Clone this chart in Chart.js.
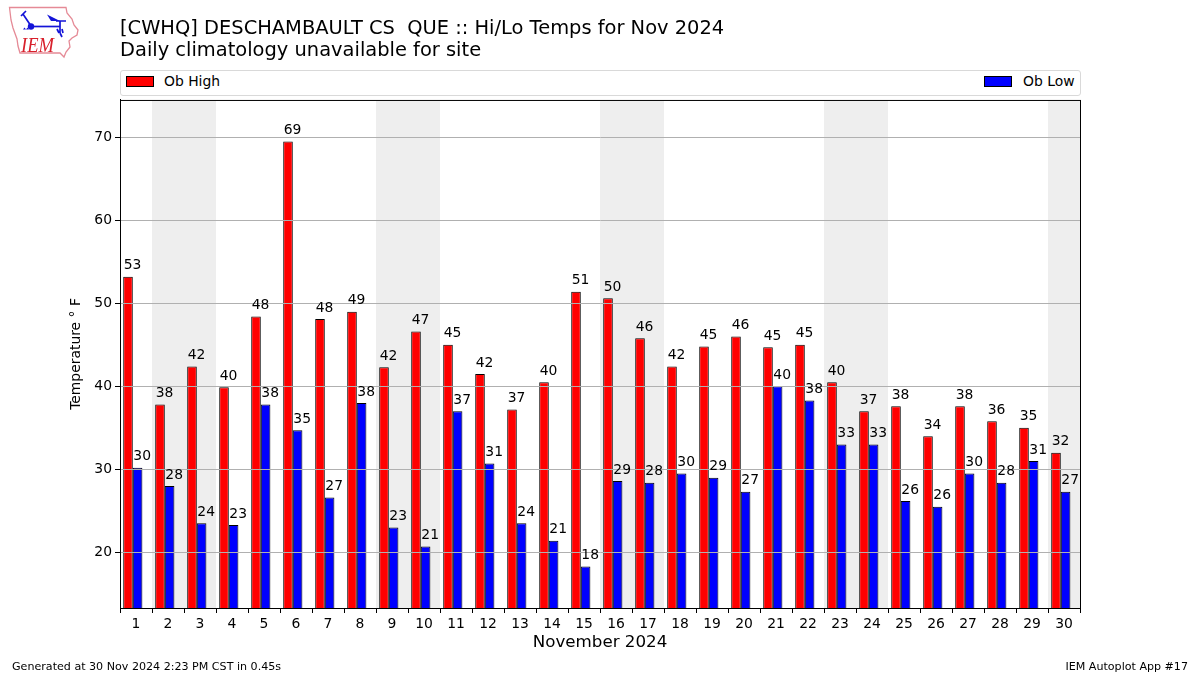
<!DOCTYPE html>
<html><head><meta charset="utf-8">
<script src="https://cdn.jsdelivr.net/npm/chart.js@4"></script>
<style>
html,body{margin:0;padding:0;background:#fff;width:1200px;height:675px;overflow:hidden;font-family:"DejaVu Sans",sans-serif}
#c{position:absolute;left:0;top:0}
.t{position:absolute;white-space:nowrap;color:#000}
#legend{position:absolute;left:120px;top:70px;width:959px;height:24px;border:1px solid #d9d9d9;border-radius:3px;background:#fff}
#legend .sw{position:absolute;top:5px;width:26px;height:9px;border:1px solid #000}
#legend .lb{position:absolute;top:2px;font-size:13.9px;line-height:16px;color:#000}
</style></head><body>
<canvas id="c" width="1200" height="675"></canvas>
<svg style="position:absolute;left:0;top:0" width="90" height="65" viewBox="0 0 90 65">
<path d="M9.500 7.500H66L67 13L72 19L74 25L78 30L77 35L72 38L69 41L70 47L66 52L64 57L60 53H20L18 46L17 39L13 28L11 20Z" fill="none" stroke="#e58a96" stroke-width="1.300"/>
<g stroke="#1414d8" stroke-width="1.700" fill="none">
<path d="M31 26.500H60"/><path d="M31 26L23 14L21 16M23 14L26 11"/><path d="M56 21H66M60 21V33M60 33L62 37M57 29L59 33M62 29L63 33"/>
</g>
<circle cx="31" cy="26.500" r="3.200" fill="#1414d8"/>
<path d="M47 14.500L60 21L51 21Z" fill="#1414d8"/>
<path d="M23 29.500l1.500 -2l1.500 2zM26 29.500l1.500 -2l1.500 2z" fill="#1414d8"/>
<text x="21" y="52" font-family="Liberation Serif" font-style="italic" font-size="22" textLength="33" lengthAdjust="spacingAndGlyphs" fill="#d8202c">IEM</text>
</svg>
<div id="legend"></div>
<div class="t" style="left:12px;top:660px;font-size:11.1px;line-height:13px">Generated at 30 Nov 2024 2:23 PM CST in 0.45s</div>
<div class="t" style="right:12px;top:660px;font-size:11.1px;line-height:13px">IEM Autoplot App #17</div>
<script>
const days=[1,2,3,4,5,6,7,8,9,10,11,12,13,14,15,16,17,18,19,20,21,22,23,24,25,26,27,28,29,30];
const obHigh=[53.2,37.8,42.4,39.9,48.4,69.5,48.1,49,42.3,46.6,45,41.5,37.2,40.5,51.4,50.6,45.8,42.4,44.8,46,44.7,45,40.5,37,37.6,34,37.6,35.8,35,32];
const obLow=[30.2,28,23.5,23.3,37.8,34.7,26.6,38,23,20.7,37,30.7,23.5,21.4,18.3,28.6,28.4,29.5,29,27.3,40,38.3,33,33,26.2,25.5,29.5,28.4,31,27.3];
const highLabels=[53,38,42,40,48,69,48,49,42,47,45,42,37,40,51,50,46,42,45,46,45,45,40,37,38,34,38,36,35,32];
const lowLabels=[30,28,24,23,38,35,27,38,23,21,37,31,24,21,18,29,28,30,29,27,40,38,33,33,26,26,30,28,31,27];
const weekendDays=[2,3,9,10,16,17,23,24,30];
const titleLines=["[CWHQ] DESCHAMBAULT CS  QUE :: Hi/Lo Temps for Nov 2024","Daily climatology unavailable for site"];
const groupShift=-0.1;
const FONT='"DejaVu Sans"';
const bands={id:'bands',beforeDatasetsDraw(ch){
  const {ctx,chartArea:a,scales:{x}}=ch;ctx.save();ctx.fillStyle='#eeeeee';
  weekendDays.forEach(d=>{
    const l=Math.max(x.getPixelForValue(d-0.5),a.left),r=Math.min(x.getPixelForValue(d+0.5),a.right);
    ctx.fillRect(l,a.top,r-l,a.bottom-a.top);});
  ctx.restore();}};
const valueLabels={id:'valueLabels',afterDraw(ch){
  const {ctx,chartArea:a}=ch;ctx.save();
  ctx.strokeStyle='#000';ctx.lineWidth=1;ctx.strokeRect(a.left+.5,a.top+.5,a.right-a.left,a.bottom-a.top);
  ctx.fillStyle='#000';ctx.font='13.9px '+FONT;ctx.textAlign='center';ctx.textBaseline='middle';
  [highLabels,lowLabels].forEach((lab,i)=>{
    ch.getDatasetMeta(i).data.forEach((el,j)=>{ctx.fillText(String(lab[j]),el.x+4.6,el.y-11);});});
  ctx.restore();}};
new Chart(document.getElementById('c'),{
  type:'bar',
  data:{datasets:[
    {label:'Ob High',data:days.map((d,i)=>({x:d+groupShift,y:obHigh[i]})),backgroundColor:'#ff0000',borderColor:'#000',borderWidth:1,borderSkipped:false},
    {label:'Ob Low',data:days.map((d,i)=>({x:d+groupShift,y:obLow[i]})),backgroundColor:'#0000ff',borderColor:'#000',borderWidth:1,borderSkipped:false}
  ]},
  options:{
    responsive:false,animation:false,devicePixelRatio:1,
    layout:{padding:{left:68,right:120,top:0,bottom:22}},
    datasets:{bar:{barPercentage:1,categoryPercentage:0.6}},
    plugins:{
      legend:{display:false},tooltip:{enabled:false},
      title:{display:true,text:titleLines,align:'start',fullSize:false,color:'#000',
        font:{family:FONT,size:19.45,weight:'normal',lineHeight:1.13},padding:{top:18,bottom:38}}
    },
    scales:{
      x:{type:'linear',min:0.5,max:30.5,offset:false,
        afterFit(s){s.height=45;},
        afterBuildTicks(s){s.ticks=days.map(v=>({value:v}));},
        grid:{drawOnChartArea:false,drawTicks:true,tickLength:5,color:'#000',tickColor:'#000'},
        border:{display:true,color:'#000'},
        ticks:{stepSize:1,includeBounds:false,autoSkip:false,maxRotation:0,color:'#000',padding:3,font:{family:FONT,size:13.9},callback:v=>String(v)},
        title:{display:true,text:'November 2024',color:'#000',font:{family:FONT,size:16.7},padding:0}},
      y:{type:'linear',min:13.3,max:74.5,
        afterFit(s){s.width=52;},
        grid:{z:1,color:'#b0b0b0',tickColor:'#000',tickLength:5,lineWidth:1},
        border:{display:true,color:'#000',z:1},
        ticks:{stepSize:10,includeBounds:false,color:'#000',padding:3,font:{family:FONT,size:13.9},callback:v=>String(v)},
        title:{display:true,text:'Temperature ° F',color:'#000',font:{family:FONT,size:13.9},padding:0}}
    }
  },
  plugins:[bands,valueLabels]
});
const lg=document.getElementById('legend');
[['Ob High','#ff0000','left:5px','left:43px'],['Ob Low','#0000ff','left:863px','left:902px']].forEach(e=>{
  lg.insertAdjacentHTML('beforeend',`<div class="sw" style="${e[2]};background:${e[1]}"></div><div class="lb" style="${e[3]}">${e[0]}</div>`);});
</script>
</body></html>
